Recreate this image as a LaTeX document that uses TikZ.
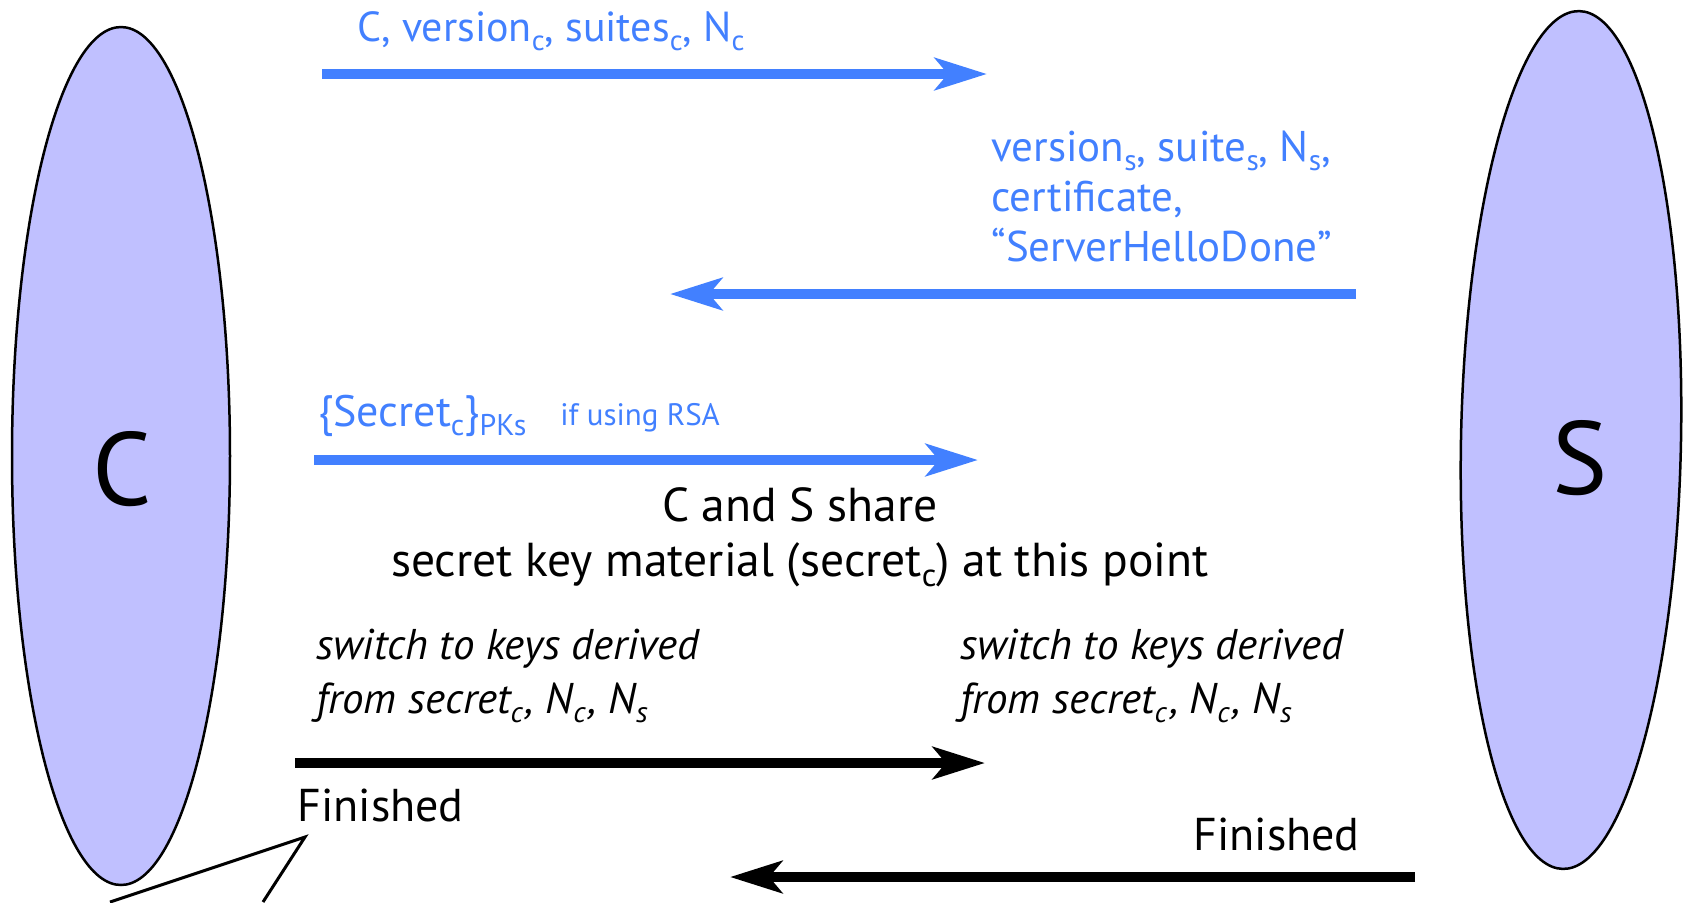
\documentclass[tikz,border=0pt]{standalone}
\usepackage{fontspec}
\usepackage{graphicx}
\setmainfont{PT Sans}
\usetikzlibrary{positioning,calc,shapes.geometric,arrows.meta}
\definecolor{msgblue}{RGB}{66,128,255}
\definecolor{hostfill}{RGB}{192,192,255}
\newcommand{\lowsub}[1]{\raisebox{-0.22em}{\scalebox{0.68}{#1}}}
\tikzset{
  host/.style={ellipse, draw=black, line width=1.25pt, fill=hostfill, inner sep=0pt},
  hostlab/.style={font=\fontsize{52}{52}\selectfont},
  msg/.style={line width=5pt, -{Stealth[length=26pt,width=16pt,inset=6.5pt]}},
  bluemsg/.style={msg, draw=msgblue},
  blackmsg/.style={msg, draw=black},
  txt/.style={anchor=base west, inner sep=0pt, align=left, font=\fontsize{21}{25}\selectfont},
  note/.style={txt, font=\fontsize{21.5}{27}\selectfont\itshape},
}
\begin{document}
\begin{tikzpicture}[x=0.5pt,y=-0.5pt]
    \useasboundingbox (0,0) rectangle (1694,902);
    %% client and server
     \node (cli) [host, minimum width=109pt, minimum height=429pt] at (121,456) {};
     \node (srv) [host, minimum width=110pt, minimum height=429pt, rotate=-1.1] at (1571,440) {};
     \node (clilab) [hostlab] at (122,469) {C};
     \node (srvlab) [hostlab] at (1580,458) {S};

    %% hello messages
     \coordinate (m1s) at (322,74);
     \coordinate (m1e) at (987,74);
     \draw[bluemsg] (m1s) -- (m1e);
     \node (m1) [txt, text=msgblue] at (357,41) {C, version\lowsub{c}, suites\lowsub{c}, N\lowsub{c}};

     \coordinate (m2s) at (1356,294);
     \coordinate (m2e) at (670,294);
     \draw[bluemsg] (m2s) -- (m2e);
     \node (m2) [txt, text=msgblue, font=\fontsize{21.5}{25}\selectfont] at (991,261) {version\lowsub{s}, suite\lowsub{s}, N\lowsub{s},\\certificate,\\“ServerHelloDone”};

    %% key exchange
     \coordinate (m3s) at (314,460);
     \coordinate (m3e) at (978,460);
     \draw[bluemsg] (m3s) -- (m3e);
     \node (m3) [txt, text=msgblue, font=\fontsize{22}{25}\selectfont] at (318,426) {\{Secret\lowsub{c}\}\lowsub{PKs}};
     \node (rsa) [txt, text=msgblue, font=\fontsize{15.5}{16}\selectfont] at (560,425) {if using RSA};

     \node (share) [inner sep=0pt, anchor=base, align=center, font=\fontsize{23.8}{27.5}\selectfont] at (800,576) {C and S share\\secret key material (secret\lowsub{c}) at this point};

    %% switch keys
     \node (swc) [note] at (316,713) {switch to keys derived\\from secret\lowsub{c}\kern1.5pt, N\lowsub{c}\kern1.5pt, N\lowsub{s}};
     \node (sws) [note] at (960,713) {switch to keys derived\\from secret\lowsub{c}\kern1.5pt, N\lowsub{c}\kern1.5pt, N\lowsub{s}};

    %% finished messages
     \coordinate (m4s) at (295,763);
     \coordinate (m4e) at (985,763);
     \draw[blackmsg] (m4s) -- (m4e);
     \node (fin1) [txt, font=\fontsize{23}{23}\selectfont] at (297,821) {Finished};

     \coordinate (m5s) at (1415,877);
     \coordinate (m5e) at (730,877);
     \draw[blackmsg] (m5s) -- (m5e);
     \node (fin2) [txt, font=\fontsize{23}{23}\selectfont] at (1193,850) {Finished};

    %% callout tail
     \coordinate (tailA) at (110,902);
     \coordinate (tailtip) at (305,837);
     \coordinate (tailB) at (263,902);
     \draw[line width=1.5pt] (tailA) -- (tailtip) -- (tailB);
\end{tikzpicture}
\end{document}
